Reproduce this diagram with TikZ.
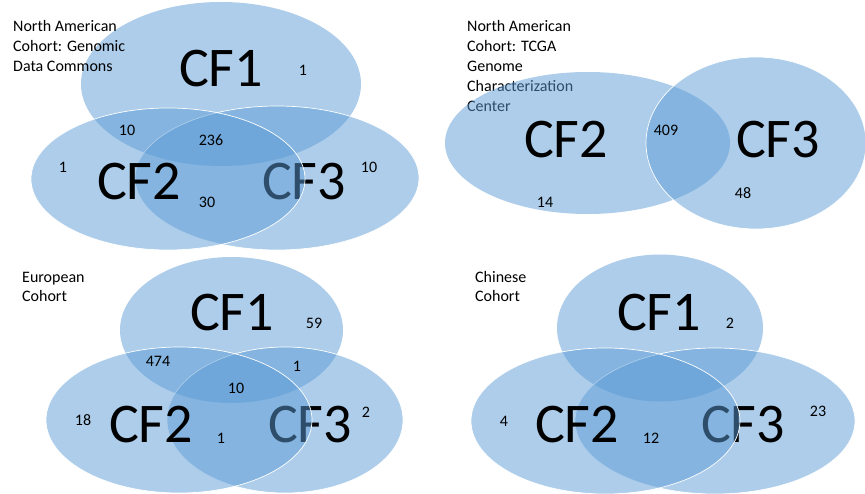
\documentclass[tikz,border=0pt]{standalone}
\usepackage{fontspec}
\setmainfont{Carlito}
\definecolor{setblue}{HTML}{5B9BD5}

\begin{document}
\begin{tikzpicture}[x=1pt,y=-1pt,
  set/.style={fill=setblue,fill opacity=0.5},
  rim/.style={draw=white,line width=0.7pt},
  cf/.style={inner sep=0pt,font=\fontsize{56}{60}\selectfont},
  num/.style={inner sep=0pt,font=\fontsize{16}{20}\selectfont},
  cohort/.style={inner sep=0pt,anchor=base west,align=left,font=\fontsize{16}{20}\selectfont}]
  \useasboundingbox (0,0) rectangle (865,494);
  \clip (0,0) rectangle (865,494);

  % Genomic Data Commons
  \fill[set] (221,84) ellipse [x radius=140pt, y radius=82pt];
  \node[cf] (gdc1) at (221,69) {CF1};
  \filldraw[set,rim] (277,178) ellipse [x radius=142pt, y radius=72pt];
  \node[cf] (gdc3) at (304,182) {CF3};
  \filldraw[set,rim] (168,179) ellipse [x radius=137pt, y radius=71pt];
  \node[cf] (gdc2) at (139,182) {CF2};
  \node[num] (gdc-a) at (303,70) {1};
  \node[num] (gdc-ab) at (127,130) {10};
  \node[num] (gdc-abc) at (211,140) {236};
  \node[num] (gdc-b) at (63,167) {1};
  \node[num] (gdc-bc) at (207,202) {30};
  \node[num] (gdc-c) at (369,167) {10};
  % base of a multi-line node is its last line
  \node[cohort] (gdc) at (13,72) {North American\\Cohort: Genomic\\Data Commons};

  % TCGA
  \node[cohort] (tcga) at (467,112) {North American\\Cohort: TCGA\\Genome\\Characterization\\Center};
  \fill[set] (587.5,143) ellipse [x radius=142.5pt, y radius=71pt];
  \node[cf] (tcga2) at (566,140) {CF2};
  \filldraw[set,rim] (756,143) ellipse [x radius=110pt, y radius=86pt];
  \node[cf] (tcga3) at (778,140) {CF3};
  \node[num] (tcga-bc) at (666,130) {409};
  \node[num] (tcga-b) at (545,202) {14};
  \node[num] (tcga-c) at (743,193) {48};

  % European
  \fill[set] (231.5,330) ellipse [x radius=111.5pt, y radius=73pt];
  \node[cf] (eu1) at (232,313) {CF1};
  \filldraw[set,rim] (285,420) ellipse [x radius=118pt, y radius=73pt];
  \node[cf] (eu3) at (310,425) {CF3};
  \filldraw[set,rim] (179,420) ellipse [x radius=133pt, y radius=73pt];
  \node[cf] (eu2) at (151,425) {CF2};
  \node[num] (eu-a) at (314,323) {59};
  \node[num] (eu-ab) at (158,361) {474};
  \node[num] (eu-ac) at (297,366) {1};
  \node[num] (eu-abc) at (236,388) {10};
  \node[num] (eu-b) at (83,420) {18};
  \node[num] (eu-bc) at (221,438) {1};
  \node[num] (eu-c) at (366,412) {2};
  \node[cohort] (eu) at (22,302) {European\\Cohort};

  % Chinese
  \fill[set] (660,328) ellipse [x radius=103pt, y radius=73.5pt];
  \node[cf] (cn1) at (659,313) {CF1};
  \filldraw[set,rim] (715,421) ellipse [x radius=140pt, y radius=73pt];
  \node[cf] (cn3) at (743,425) {CF3};
  \filldraw[set,rim] (605.5,421) ellipse [x radius=134.5pt, y radius=73pt];
  \node[cf] (cn2) at (577,425) {CF2};
  \node[num] (cn-a) at (730,323) {2};
  \node[num] (cn-b) at (504,421) {4};
  \node[num] (cn-bc) at (651,438) {12};
  \node[num] (cn-c) at (818,411) {23};
  \node[cohort] (cn) at (475,302) {Chinese\\Cohort};
\end{tikzpicture}
\end{document}
